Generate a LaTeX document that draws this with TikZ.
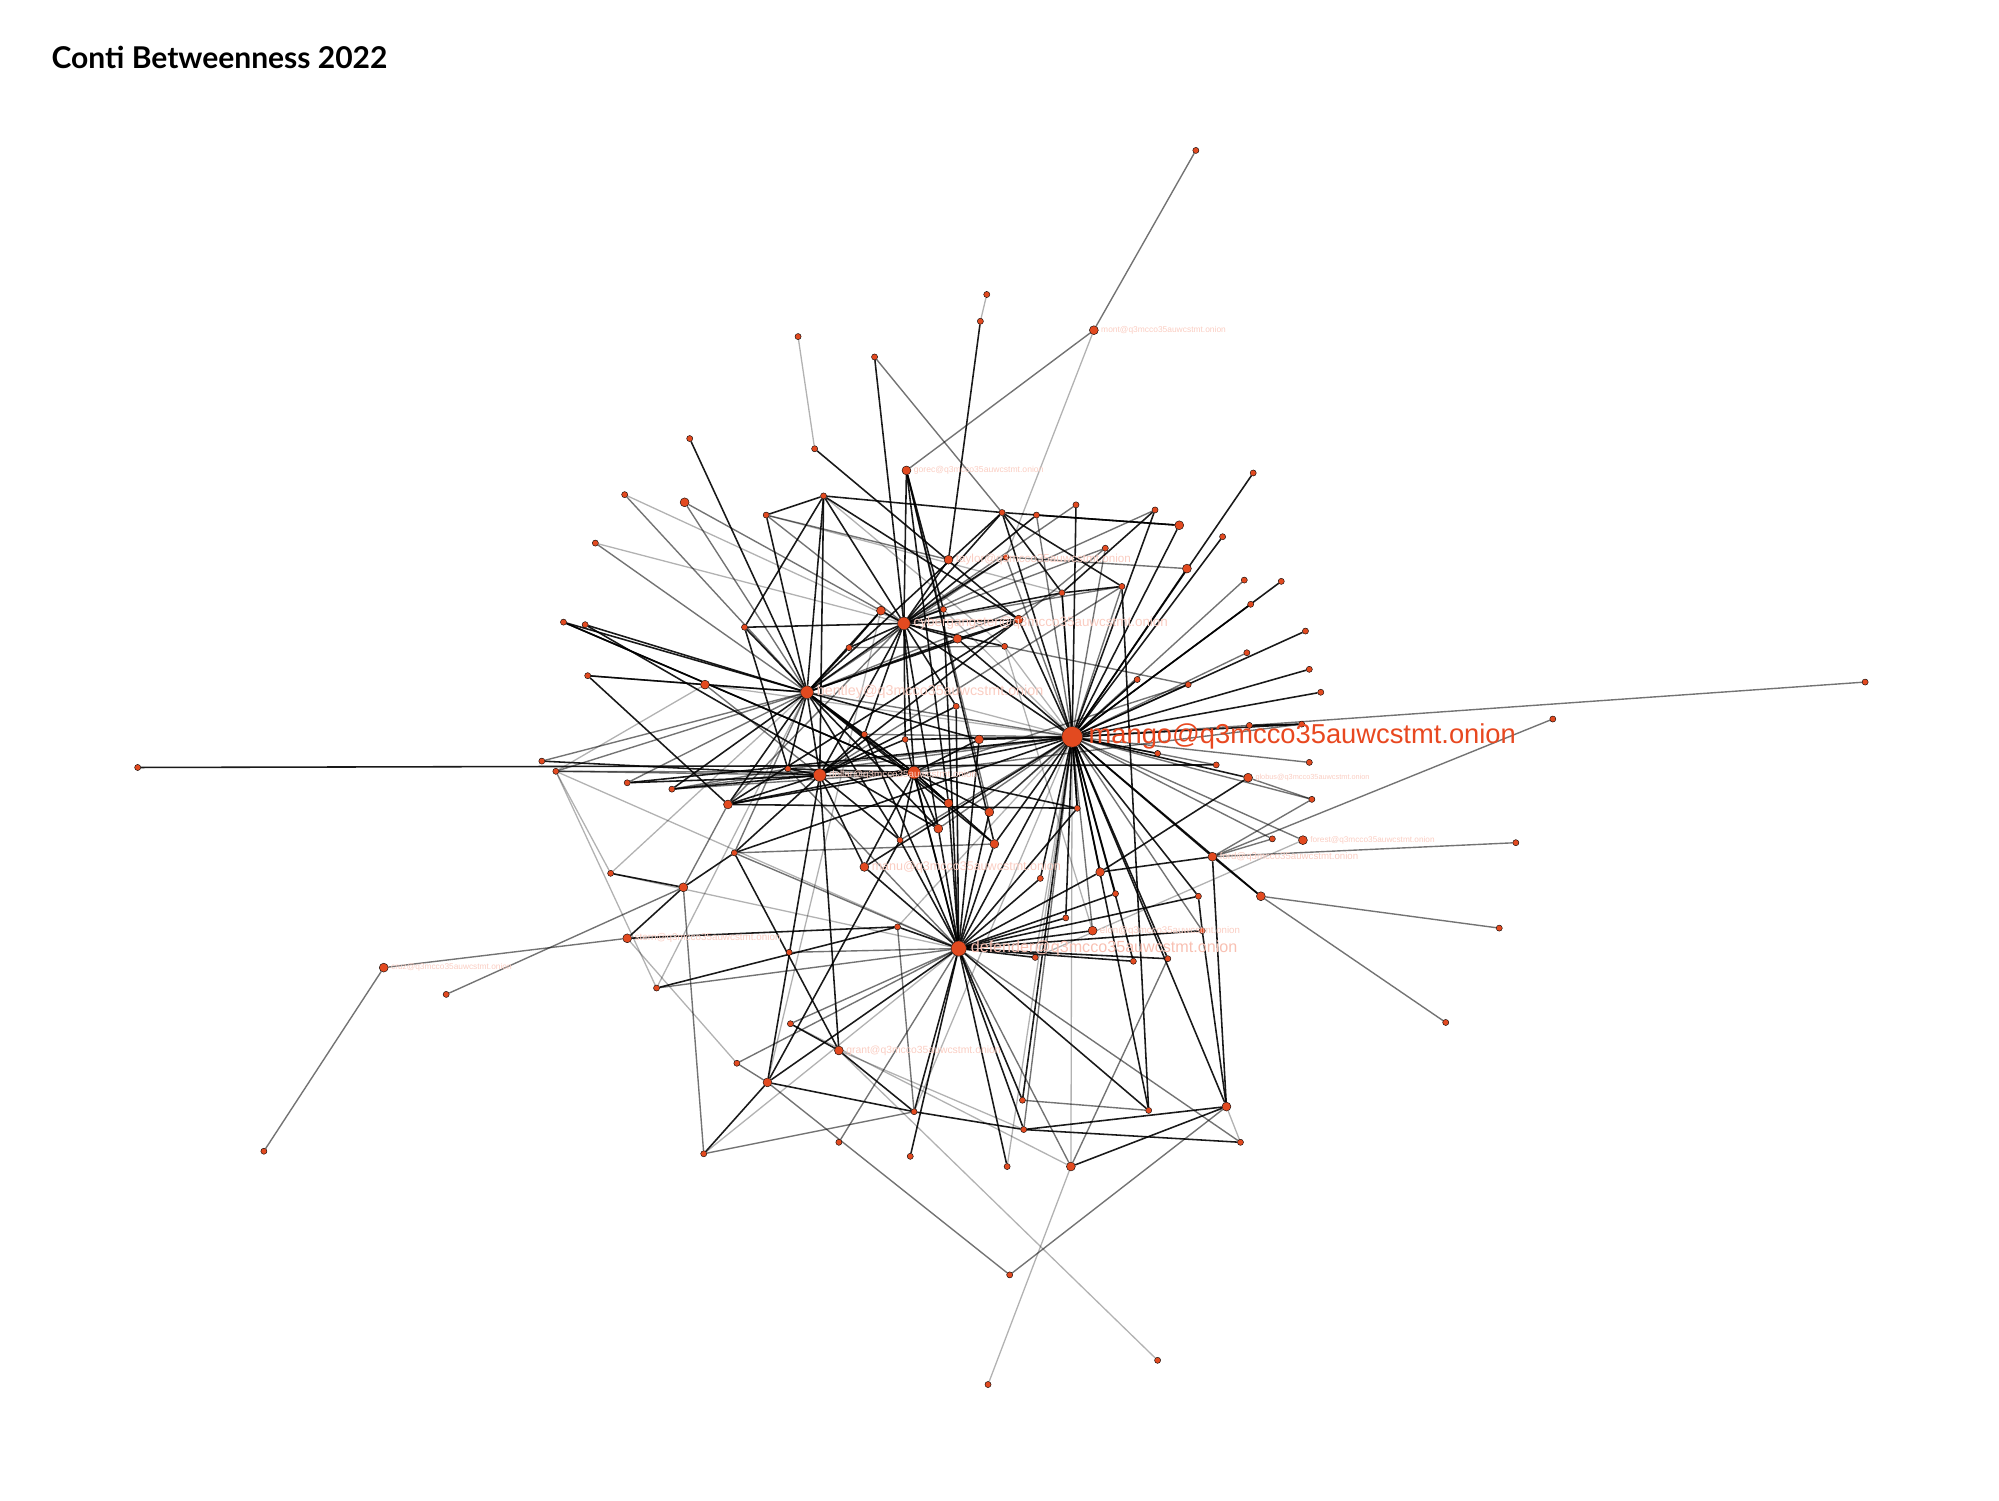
\documentclass[tikz,border=0pt]{standalone}
\usepackage{fontspec}
\setmainfont{Liberation Sans}
\newfontfamily\titlefont{Lato}
\usetikzlibrary{positioning}
\definecolor{netorange}{RGB}{226,74,32}
\definecolor{mangored}{RGB}{232,72,32}
\definecolor{faintpink}{RGB}{250,205,194}
\definecolor{softpink}{RGB}{248,192,178}
\pgfdeclarelayer{edges}
\pgfsetlayers{edges,main}
\tikzstyle{vtx} = [circle, draw=black, line width=0.45pt, fill=netorange, inner sep=0pt, minimum size=2.4mm]
\tikzstyle{vtxm} = [vtx, minimum size=3.5mm]
\tikzstyle{vtxh} = [vtx, minimum size=5mm]
\tikzstyle{vtxd} = [vtx, minimum size=6mm]
\tikzstyle{vtxbig} = [vtx, minimum size=8.2mm]
\tikzstyle{tie} = [line width=1.75pt, draw=black, draw opacity=0.9]
\tikzstyle{tiemid} = [line width=1.55pt, draw=black, draw opacity=0.55]
\tikzstyle{tiepale} = [line width=1.45pt, draw=black, draw opacity=0.3]
\tikzstyle{tag} = [inner sep=0pt, text=faintpink]

\begin{document}
\begin{tikzpicture}[x=0.5mm, y=-0.5mm]
        \useasboundingbox (0,0) rectangle (1568,1177);
        \node[anchor=west, font=\titlefont\bfseries\fontsize{33.5}{38}\selectfont] (title) at (38,45) {Conti Betweenness 2022};

        % hubs
        \node[vtxbig] (mango) at (841,578) {};
        \node[vtxd] (defender) at (752,744) {};
        \node[vtxh] (bentley) at (633,543) {};
        \node[vtxh] (cyber) at (709,489) {};
        \node[vtxh] (hubc) at (717,606) {};
        \node[vtxh] (dollar) at (643,608) {};

        % medium vertices
        \foreach \n/\x/\y in {gorec/711/369, taylor/744/439, mont/858/259, v4/537/394, v11/925/412,
                v17/931/446, v26/691/479, v28/799/486, v29/751/501, v36/553/537, v43/768/580,
                v54/571/631, globus/979/610, v60/776/637, forest/1022/659, ford/951/672,
                v68/863/684, v72/989/703, hubf/744/630, hubg/736/650, hubh/780/662, manu/678/680,
                v74/536/696, stern/492/736, cruz/301/759, elon/857/730, grant/658/824,
                v93/602/849, v97/962/868, v104/840/915}
        {\node[vtxm] (\n) at (\x,\y) {};}

        % small vertices
        \foreach \n/\x/\y in {t1/938/118, t2/774/231, t3/769/252, t4/626/264, t5/686/280,
                v1/541/344, v2/639/352, v3/490/388, v5/646/389, v6/601/404, v7/786/402,
                v8/813/404, v9/844/396, v10/906/400, v12/959/421, v13/983/371, v14/467/426,
                v15/867/430, v16/789/437, v18/976/455, v19/1005/456, v20/880/460, v21/833/465,
                v22/981/474, v23/442/488, v24/459/490, v25/584/492, v27/740/478, v30/788/507,
                v31/666/508, v32/1024/495, v33/978/512, v34/1027/525, v35/461/530, v37/892/533,
                v38/932/537, v39/1036/543, v40/750/554, v41/678/576, v42/710/580, v44/1218/564,
                v45/1463/535, v46/980/569, v47/1021/568, v48/108/602, v49/425/597, v50/436/605,
                v51/492/614, v52/527/619, v53/618/603, v55/908/591, v56/954/600, v57/1027/598,
                v59/1029/627, v61/845/634, v62/706/659, v63/576/669, v64/998/658, v66/1189/661,
                v69/816/689, v70/875/701, v71/940/703, v73/479/685, v77/350/780, v78/207/903,
                v79/515/775, v80/619/747, v81/704/727, v82/836/720, v84/943/730, v85/812/751,
                v86/889/754, v87/916/752, v88/1176/728, v89/1134/802, v90/620/803, v92/578/834,
                v94/802/863, v95/717/872, v96/901/871, v98/803/886, v99/552/905, v100/658/896,
                v101/714/907, v102/973/896, v103/790/915, v105/792/1000, v106/775/1086, v107/908/1067}
        {\node[vtx] (\n) at (\x,\y) {};}

        % labels
        \node[tag, right=2.2mm of mango, text=mangored, font=\fontsize{30.5}{33}\selectfont] (mangotag) {mango@q3mcco35auwcstmt.onion};
        \node[tag, right=1.6mm of defender, text=softpink, font=\fontsize{18}{20}\selectfont] (defendertag) {defender@q3mcco35auwcstmt.onion};
        \node[tag, right=1.2mm of bentley, font=\fontsize{16}{18}\selectfont] (bentleytag) {bentley@q3mcco35auwcstmt.onion};
        \node[tag, right=1.2mm of cyber, font=\fontsize{15}{17}\selectfont] (cybertag) {cybergangster@q3mcco35auwcstmt.onion};
        \node[tag, right=1mm of taylor, font=\fontsize{13}{15}\selectfont] (taylortag) {taylor@q3mcco35auwcstmt.onion};
        \node[tag, right=1mm of dollar, font=\fontsize{11}{13}\selectfont] (dollartag) {dollar@q3mcco35auwcstmt.onion};
        \node[tag, right=1mm of manu, font=\fontsize{14}{16}\selectfont] (manutag) {manu@q3mcco35auwcstmt.onion};
        \node[tag, right=1mm of grant, font=\fontsize{11.6}{13}\selectfont] (granttag) {grant@q3mcco35auwcstmt.onion};
        \node[tag, right=1mm of stern, font=\fontsize{11}{13}\selectfont] (sterntag) {stern@q3mcco35auwcstmt.onion};
        \node[tag, right=1mm of elon, font=\fontsize{10.8}{12}\selectfont] (elontag) {elon@q3mcco35auwcstmt.onion};
        \node[tag, right=1mm of ford, font=\fontsize{10.8}{12}\selectfont] (fordtag) {ford@q3mcco35auwcstmt.onion};
        \node[tag, right=1mm of gorec, font=\fontsize{9.6}{11}\selectfont] (gorectag) {gorec@q3mcco35auwcstmt.onion};
        \node[tag, right=1mm of mont, font=\fontsize{9.4}{11}\selectfont] (monttag) {mont@q3mcco35auwcstmt.onion};
        \node[tag, right=1mm of cruz, font=\fontsize{9.3}{11}\selectfont] (cruztag) {cruz@q3mcco35auwcstmt.onion};
        \node[tag, right=1mm of forest, font=\fontsize{9.2}{11}\selectfont] (foresttag) {forest@q3mcco35auwcstmt.onion};
        \node[tag, right=1mm of globus, font=\fontsize{8.2}{10}\selectfont] (globustag) {globus@q3mcco35auwcstmt.onion};

        \begin{pgfonlayer}{edges}
        % mango
        \foreach \t in {v7,v9,v10,v11,v12,v13,v17,v19,v22,v28,v32,v34,v37,v39,v43,v47,v55,v61,v68,v69,
                v70,v71,v72,v82,v86,v87,v94,v96,v97,defender,cyber,v29,v51,v54,v63,manu,v42,hubh,ford,globus}
        {\draw[tie] (mango) -- (\t);}
        \foreach \t in {v8,v15,v16,v20,v21,v33,v38,v46,v56,v57,v59,v84,v98,v64,forest,v41,hubg,v60,
                v18,elon,v62,v53,v52,bentley}
        {\draw[tiemid] (mango) -- (\t);}
        \foreach \t in {v27,v30,v40,v81,v85,v104,v103,v95,v36}
        {\draw[tiepale] (mango) -- (\t);}

        % defender
        \foreach \t in {v60,v68,v69,v82,elon,v85,v94,v98,v96,v84,v86,v101,v95,v93,hubg,hubf,hubh,manu,
                v81,v62,v42,hubc,v70,v27,v103,v87,v71,v61,v43,v41,v40}
        {\draw[tie] (defender) -- (\t);}
        \foreach \t in {v104,v90,v80,v53,v100,v102,v79,v92,v63}
        {\draw[tiemid] (defender) -- (\t);}
        \foreach \t in {v99,v73,v50}
        {\draw[tiepale] (defender) -- (\t);}

        % bentley
        \foreach \t in {v36,v24,v23,v25,v6,v31,cyber,v41,dollar,v53,hubc,hubf,hubg,hubh,v54,v52,v1,v5,
                v26,v29,v43,v62,v7,v28}
        {\draw[tie] (bentley) -- (\t);}
        \foreach \t in {v35,v3,v14,v51,v49,v50,v21,v16,v4,v63}
        {\draw[tiemid] (bentley) -- (\t);}
        \foreach \t in {v73,v79}
        {\draw[tiepale] (bentley) -- (\t);}

        % cyber
        \foreach \t in {v5,v26,v27,v29,v30,v16,v28,taylor,gorec,v21,v8,v7,dollar,hubc,hubg,v41,v31,
                v40,v42,t5,v25}
        {\draw[tie] (cyber) -- (\t);}
        \foreach \t in {v20,v15,v9,v6,v4,v10,v54}
        {\draw[tiemid] (cyber) -- (\t);}
        \foreach \t in {v3,v14}
        {\draw[tiepale] (cyber) -- (\t);}

        % hubc, dollar
        \foreach \t in {v43,hubf,hubh,hubg,v60,v53,v41,v62,v61,manu,v54,v23,v51}
        {\draw[tie] (hubc) -- (\t);}
        \foreach \t in {v52,v50,v47,v38}
        {\draw[tiemid] (hubc) -- (\t);}
        \foreach \t in {v52,v49,v53,v54,v63,v41,v42,v40,v62,manu,grant,v93,v5,v28}
        {\draw[tie] (dollar) -- (\t);}
        \foreach \t in {v50,v36}
        {\draw[tiemid] (dollar) -- (\t);}

        % the rest
        \foreach \a/\b in {t3/taylor, gorec/v27, gorec/hubf, gorec/hubh, v2/v28, v5/v6, v5/v7, v5/v25,
                v5/v28, v7/v11, v8/v11, v7/v20, v7/v21, v10/v21, v20/v21, v21/v61, v23/hubc, v24/hubg,
                v25/v53, v26/v31, v28/v29, v28/v54, v35/v36, v35/v54, v46/v47, v48/v56, v54/v61,
                globus/v68, v63/grant, v63/v74, ford/v97, ford/v72, ford/v68, v71/v84, v73/v74,
                v74/stern, stern/v81, v79/v81, v90/grant, grant/v95, v93/v99, v93/v95, v93/v62,
                v95/v98, v96/v20, v97/v98, v97/v104, v97/v84, v98/v102}
        {\draw[tie] (\a) -- (\b);}
        \foreach \a/\b in {mont/gorec, t1/mont, t5/v7, gorec/v60, v6/taylor, v15/v28, v16/v17,
                v20/dollar, v30/v31, v37/v60, v38/v30, v44/ford, v45/v46, v52/v53, v54/v74,
                globus/v59, v59/ford, v63/hubh, v64/ford, v66/ford, v72/v88, v72/v89, v74/v77,
                v74/v99, stern/cruz, cruz/v78, v81/v95, v92/v93, v93/v105, v94/v96, v99/v95,
                v104/v87, v105/v97}
        {\draw[tiemid] (\a) -- (\b);}
        \foreach \a/\b in {t2/t3, t4/v2, mont/v16, v5/v30, v6/v21, v26/v93, v30/elon, v36/v50,
                v50/v79, forest/v85, v73/v50, stern/v92, v90/v104, grant/v98, v97/v102, v104/v106,
                v107/grant}
        {\draw[tiepale] (\a) -- (\b);}
        \end{pgfonlayer}
\end{tikzpicture}
\end{document}
